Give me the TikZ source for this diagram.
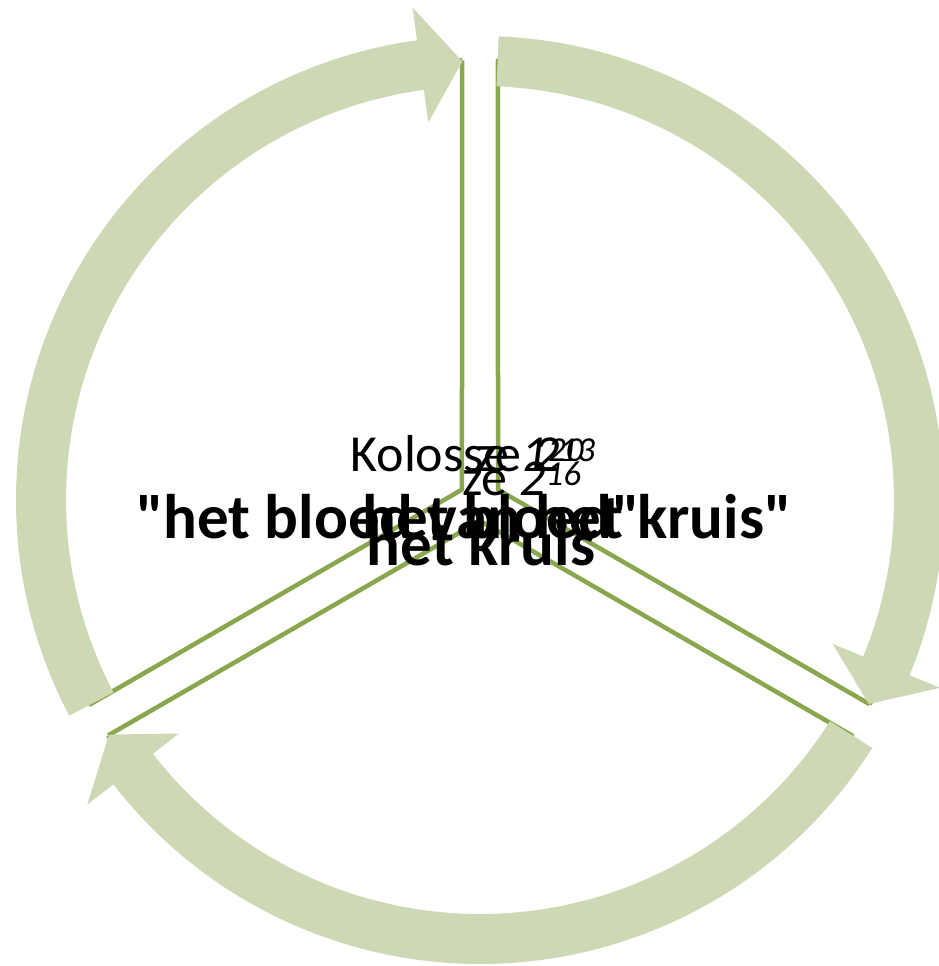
\documentclass[tikz,border=0pt]{standalone}
\usepackage{fontspec}
\setmainfont{Carlito}[Ligatures=TeXOff]
\definecolor{bandgreen}{RGB}{205,217,181}
\definecolor{edgegreen}{RGB}{137,167,76}
\newcommand\vers[1]{\raisebox{10pt}{\fontsize{35}{35}\selectfont\itshape #1}}

\begin{document}
\begin{tikzpicture}[
    x=1pt, y=1pt,
    band/.style={fill=bandgreen, draw=none},
    segment/.style={draw=edgegreen, line width=4.5pt, line join=round},
    verse/.style={font=\fontsize{52}{56}\selectfont, inner sep=0pt},
    title/.style={font=\fontsize{63}{66}\selectfont\bfseries, inner sep=0pt}
]
\useasboundingbox (-480,-466) rectangle (458,500);

% Segments
\foreach \s in {90,210,330}
    \draw[segment] (\s+2.34:440) -- (\s+60:20.8) -- (\s+117.66:440)
        arc[start angle=\s+117.66, end angle=\s+2.34, radius=440];

% Arrows
\foreach \a/\b in {207.7/92.3, 87.7/-27.7, 327.7/212.3}
    \fill[band] (\a:464) arc[start angle=\a, end angle=\b+5.5, radius=464]
        -- (\b+5.5:497) -- (\b:439) -- (\b+5.5:381) -- (\b+5.5:414)
        arc[start angle=\b+5.5, end angle=\a, radius=414] -- cycle;

% Texts
\node[verse, anchor=base] (ref1) at (-13,28) {Kolosse \textit{1}\vers{20}};
\node[verse, anchor=base west] (ref2) at (-4,28) {ze \textit{2}\vers{13}};
\node[verse, anchor=base west] (ref3) at (-18,4) {ze \textit{2}\vers{16}};
\node[title, anchor=base] (quote1) at (-16,-38) {"het bloed van het kruis"};
\node[title, anchor=base east] (quote2) at (160,-38) {het bloed"};
\node[title, anchor=base] (quote3) at (1,-65) {het kruis};

\end{tikzpicture}
\end{document}
